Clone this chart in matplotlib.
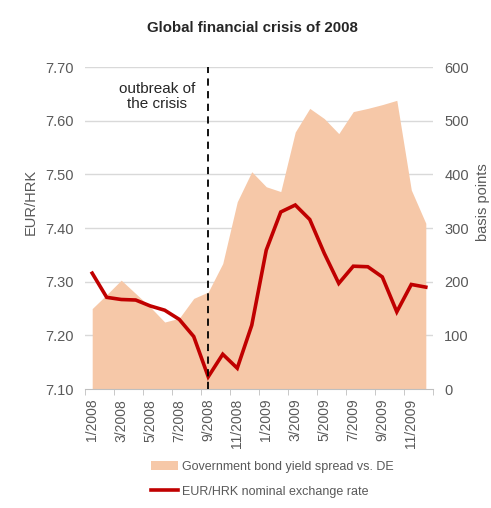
import numpy as np
import matplotlib
matplotlib.use("Agg")
import matplotlib.pyplot as plt
from matplotlib.patches import Patch
from matplotlib.lines import Line2D

plt.rcParams['font.family'] = ['Liberation Sans', 'DejaVu Sans']

# monthly data, 1/2008 - 12/2009
months = ['%d/%d' % (m, y) for y in (2008, 2009) for m in range(1, 13)]
eur_hrk = [7.316, 7.271, 7.267, 7.266, 7.255, 7.247, 7.230, 7.198,
           7.123, 7.165, 7.139, 7.219, 7.359, 7.430, 7.443, 7.416,
           7.353, 7.297, 7.329, 7.328, 7.309, 7.244, 7.295, 7.290]
spread_bp = [150, 176, 203, 178, 153, 125, 132, 169,
             181, 234, 349, 405, 377, 368, 479, 523,
             504, 476, 517, 523, 530, 538, 371, 309]
crisis_month = 8  # 9/2008

grey = '#595959'
peach = '#F6C8A8'
red = '#C00000'

fig = plt.figure(figsize=(4.91, 5.08), dpi=100)
ax = fig.add_axes([0.173, 0.234, 0.709, 0.634])
ax2 = ax.twinx()

x = np.arange(len(months))

# spread area goes on the right axis, behind the exchange rate line
ax2.fill_between(x, 0, spread_bp, color=peach, lw=0, zorder=1)
ax2.set_ylim(0, 600)
ax2.set_yticks(np.arange(0, 601, 100))

ax.set_zorder(ax2.get_zorder() + 1)
ax.patch.set_visible(False)
ax.plot(x, eur_hrk, color=red, lw=2.6, zorder=3, solid_joinstyle='miter')
ax.set_ylim(7.10, 7.70)
ax.set_yticks(np.arange(7.10, 7.701, 0.10))
ax.set_yticklabels(['%.2f' % v for v in np.arange(7.10, 7.701, 0.10)])

ax.set_xlim(-0.5, len(months) - 0.5)
ax.set_xticks(x[::2])
ax.set_xticklabels(months[::2], rotation=90)
ax.set_xticks(np.arange(-0.5, len(months), 2), minor=True)

# gridlines drawn under the area so it covers them
for v in np.arange(100, 601, 100):
    ax2.axhline(v, color='#D9D9D9', lw=1, zorder=0)

ax.axvline(crisis_month, color='black', lw=1.3, ls=(0, (4, 3)), zorder=4)
ax.text(crisis_month - 3.5, 7.672, 'outbreak of\nthe crisis', ha='center', va='top',
        fontsize=11, color='#262626', linespacing=1.05)

for a in (ax, ax2):
    for s in a.spines.values():
        s.set_visible(False)
    a.tick_params(axis='y', length=0, labelsize=10.5, labelcolor=grey, pad=8)
ax.spines['bottom'].set_visible(True)
ax.spines['bottom'].set_color('#BFBFBF')
ax.tick_params(axis='x', which='major', length=0, labelsize=10, labelcolor=grey, pad=7)
ax.tick_params(axis='x', which='minor', length=4, color='#BFBFBF')

# axis titles sit a bit above the middle of the plot
fig.text(0.063, 0.602, 'EUR/HRK', rotation=90, ha='center', va='center',
         fontsize=10.5, color=grey)
fig.text(0.984, 0.602, 'basis points', rotation=90, ha='center', va='center',
         fontsize=10.5, color=grey)

fig.text(0.515, 0.945, 'Global financial crisis of 2008', ha='center', va='center',
         fontsize=10.8, fontweight='bold', color='#262626')

handles = [Patch(facecolor=peach, edgecolor='none'),
           Line2D([], [], color=red, lw=2.6)]
labels = ['Government bond yield spread vs. DE', 'EUR/HRK nominal exchange rate']
fig.legend(handles, labels, loc='upper left', bbox_to_anchor=(0.297, 0.102), frameon=False,
           fontsize=9, labelcolor=grey, handlelength=2.2, handletextpad=0.3,
           labelspacing=1.0, borderaxespad=0)

fig.savefig('out.png', dpi=100, facecolor='white')
